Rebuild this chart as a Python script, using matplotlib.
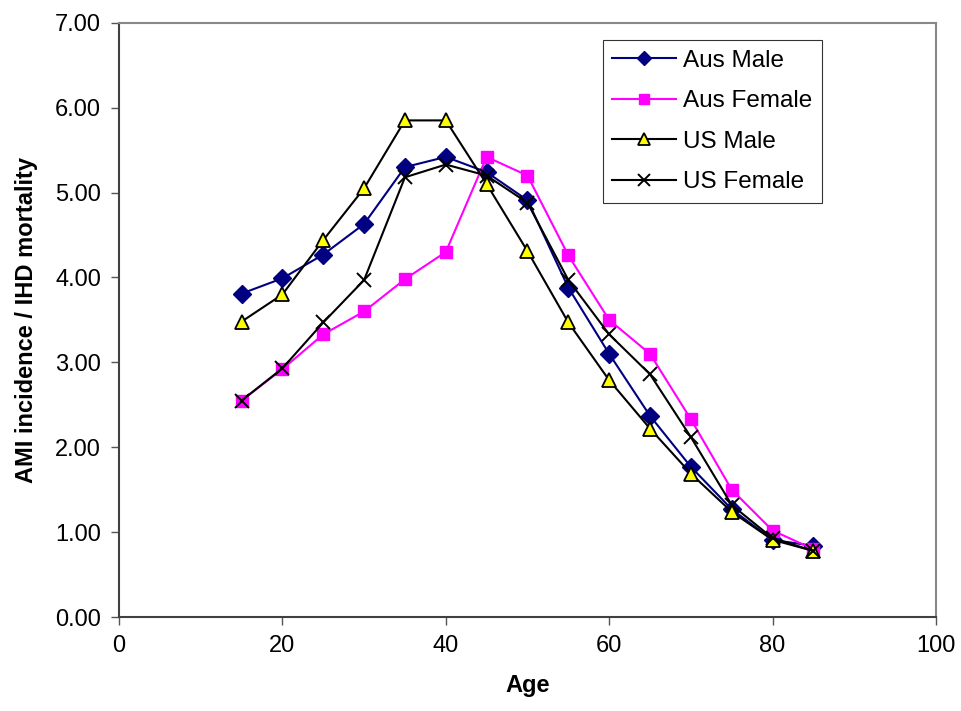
import matplotlib
matplotlib.use('Agg')
import matplotlib.pyplot as plt

plt.rcParams['font.family'] = ['Liberation Sans', 'DejaVu Sans']

ages = [15, 20, 25, 30, 35, 40, 45, 50, 55, 60, 65, 70, 75, 80, 85]
aus_male = [3.81, 3.99, 4.27, 4.63, 5.30, 5.42, 5.24, 4.91, 3.88, 3.10, 2.37, 1.77, 1.27, 0.91, 0.84]
aus_female = [2.55, 2.92, 3.33, 3.60, 3.98, 4.30, 5.42, 5.20, 4.26, 3.50, 3.10, 2.33, 1.50, 1.02, 0.80]
us_male = [3.48, 3.80, 4.44, 5.05, 5.85, 5.85, 5.10, 4.31, 3.47, 2.79, 2.22, 1.69, 1.24, 0.91, 0.78]
us_female = [2.55, 2.93, 3.47, 3.97, 5.18, 5.33, 5.20, 4.88, 3.97, 3.33, 2.86, 2.12, 1.32, 0.93, 0.78]

fig = plt.figure(figsize=(9.61, 7.11), dpi=100)
ax = fig.add_axes([0.1238, 0.132, 0.8502, 0.836])

ax.plot(ages, aus_male, color='#000080', lw=1.5, marker='D', ms=9,
        mfc='#000080', mec='#000080', label='Aus Male')
ax.plot(ages, aus_female, color='#ff00ff', lw=1.5, marker='s', ms=8.5,
        mfc='#ff00ff', mec='#ff00ff', label='Aus Female')
ax.plot(ages, us_male, color='black', lw=1.5, marker='^', ms=10,
        mfc='#ffff00', mec='black', mew=1.3, label='US Male')
ax.plot(ages, us_female, color='black', lw=1.5, marker='x', ms=10,
        mec='black', mew=1.4, label='US Female')

ax.set_xlim(0, 100)
ax.set_ylim(0, 7)
ax.set_xticks(range(0, 101, 20))
ax.set_yticks([i * 1.0 for i in range(8)])
ax.set_yticklabels([f'{v:.2f}' for v in range(8)])
ax.tick_params(labelsize=17, length=6, width=1, direction='out', pad=7,
               color='#555555')
for side in ('top', 'right'):
    ax.spines[side].set_color('#888888')
    ax.spines[side].set_linewidth(1.5)
for side in ('left', 'bottom'):
    ax.spines[side].set_color('#404040')
    ax.spines[side].set_linewidth(1.5)

ax.set_xlabel('Age', fontsize=17, fontweight='bold', labelpad=12)
ax.set_ylabel('AMI incidence / IHD mortality', fontsize=17, fontweight='bold', labelpad=12)

leg = ax.legend(loc='upper left', bbox_to_anchor=(0.592, 0.971), fontsize=17.5,
                frameon=True, fancybox=False, edgecolor='black', markerscale=0.8,
                handlelength=2.6, borderpad=0.4, labelspacing=0.76,
                handletextpad=0.3, borderaxespad=0)
leg.get_frame().set_linewidth(0.8)

fig.savefig('out.png', dpi=100)
